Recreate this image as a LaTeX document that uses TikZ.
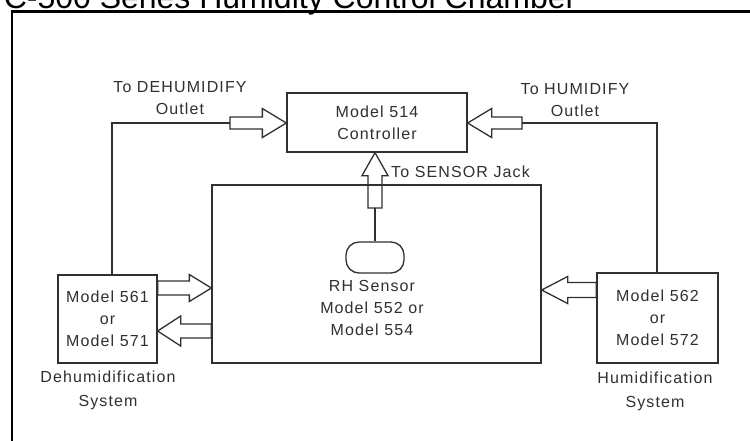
\documentclass[tikz,border=0pt]{standalone}
\usepackage{fontspec}
\setmainfont{Liberation Sans}
\newfontfamily\lblfont[LetterSpace=7]{Liberation Sans}
\usetikzlibrary{calc}
\definecolor{ink}{HTML}{303030}
\tikzset{
  lbl/.style={font=\lblfont\fontsize{16}{22}\selectfont, text=ink, align=center, inner sep=0pt},
  boxshape/.style={draw=ink, line width=1.3pt, rectangle, lbl},
  wire/.style={draw=ink, line width=1.3pt},
  frameline/.style={draw=black, line width=2.2pt},
  arrowline/.style={draw=ink, line width=1.3pt, line join=miter},
}
% #1 start, #2 tip, #3 shaft half width, #4 head half width, #5 head length
\newcommand{\blockarr}[5]{%
  \coordinate (ba-b) at ($(#2)!#5!(#1)$);
  \draw[arrowline] ($(#1)!#3!90:(#2)$) -- ($(ba-b)!#3!-90:(#1)$) -- ($(ba-b)!#4!-90:(#1)$)
    -- (#2) -- ($(ba-b)!#4!90:(#1)$) -- ($(ba-b)!#3!90:(#1)$) -- ($(#1)!#3!-90:(#2)$) -- cycle;
}
\begin{document}
\begin{tikzpicture}[x=1pt,y=-1pt]
\useasboundingbox (0,0) rectangle (750,440);
\clip (0,0) rectangle (750,440);
\fill[white] (0,0) rectangle (750,440);

% title (cut off at the top) and frame
\node[anchor=base west, inner sep=0pt, font=\fontsize{32}{32}\selectfont, text=black] (title) at (-16,8.5) {TC-500 Series Humidity Control Chamber};
\draw[frameline] (12,460) -- (12,11.5) -- (770,11.5);

% boxes
\node[boxshape, minimum width=180pt, minimum height=59pt] (ctrl) at (377,122.5) {Model 514\\Controller};
\node[boxshape, minimum width=329pt, minimum height=178pt] (ch) at (376.5,274) {};
\node[boxshape, minimum width=99pt, minimum height=88pt] (dh) at (107.5,319) {Model 561\\or\\Model 571};
\node[boxshape, minimum width=121pt, minimum height=90pt] (hu) at (657.5,318) {Model 562\\or\\Model 572};
\node[draw=ink, line width=1.3pt, rounded corners=13pt, minimum width=58pt, minimum height=31pt, inner sep=0pt] (sensor) at (375,257.5) {};

% labels
\node[lbl] (dhlbl) at (180,98) {To DEHUMIDIFY\\Outlet};
\node[lbl] (hulbl) at (575,100) {To HUMIDIFY\\Outlet};
\node[lbl] (senslbl) at (372,308) {RH Sensor\\Model 552 or\\Model 554};
\node[lbl, anchor=west] (jacklbl) at (391,172) {To SENSOR Jack};
\node[lbl, font=\lblfont\fontsize{16}{24}\selectfont] (dhsys) at (108,390) {Dehumidification\\System};
\node[lbl, font=\lblfont\fontsize{16}{24}\selectfont] (husys) at (655,391) {Humidification\\System};

% coordinates for the connectors
\coordinate (lin) at (230,123);
\coordinate (ltip) at (ctrl.west |- lin);
\coordinate (rin) at (522,123);
\coordinate (rtip) at (ctrl.east |- rin);
\coordinate (sin) at (375,208);
\coordinate (stip) at (ctrl.south -| sin);
\coordinate (lcorner) at (112,123);
\coordinate (rcorner) at (657,123);
\coordinate (dhoy) at (0,288);
\coordinate (dho1) at (dh.east |- dhoy);
\coordinate (dho2) at (ch.west |- dhoy);
\coordinate (dhiy) at (0,331);
\coordinate (dhi1) at (ch.west |- dhiy);
\coordinate (dhi2) at (dh.east |- dhiy);
\coordinate (huy) at (0,290);
\coordinate (hu1) at (hu.west |- huy);
\coordinate (hu2) at (ch.east |- huy);

% wires
\draw[wire] (dh.north -| lcorner) -- (lcorner) -- (lin);
\draw[wire] (hu.north -| rcorner) -- (rcorner) -- (rin);
\draw[wire] (sensor.north) -- (sin);

% block arrows
\blockarr{lin}{ltip}{6pt}{14.5pt}{24pt}
\blockarr{rin}{rtip}{6pt}{14.5pt}{24pt}
\blockarr{sin}{stip}{7pt}{13pt}{23pt}
\blockarr{dho1}{dho2}{7pt}{13.5pt}{22pt}
\blockarr{dhi1}{dhi2}{7pt}{15pt}{23pt}
\blockarr{hu1}{hu2}{7.5pt}{13.5pt}{26pt}
\end{tikzpicture}
\end{document}
